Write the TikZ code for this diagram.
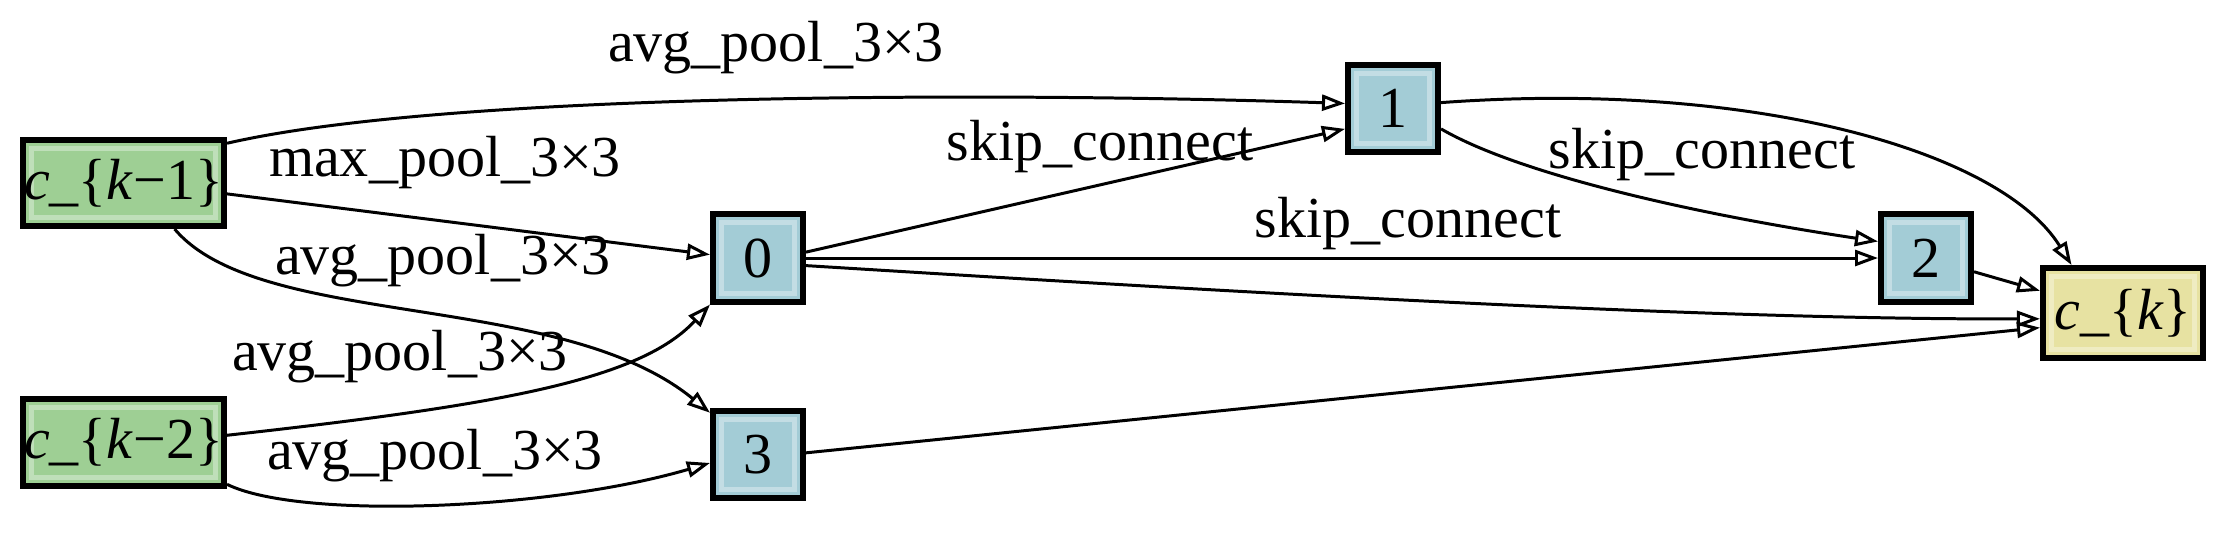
\documentclass[tikz,border=0pt]{standalone}
\usepackage{fontspec}
\setmainfont{Liberation Serif}
\usetikzlibrary{arrows.meta}
\definecolor{gfill}{RGB}{158,207,148}
\definecolor{bfill}{RGB}{163,204,214}
\definecolor{yfill}{RGB}{231,226,162}
\tikzset{
  box/.style={draw=black, line width=1.7pt, inner sep=0pt, font=\fontsize{16.5}{18}\selectfont,
    path picture={\draw[white, opacity=0.35, line width=1.4pt]
      ([shift={(2.4pt,-2.4pt)}]path picture bounding box.north west) rectangle
      ([shift={(-2.4pt,2.4pt)}]path picture bounding box.south east);}},
  inbox/.style={box, fill=gfill, minimum width=2.01cm, minimum height=0.86cm},
  opbox/.style={box, fill=bfill, minimum width=0.9cm, minimum height=0.87cm},
  outbox/.style={box, fill=yfill, minimum width=1.6cm, minimum height=0.9cm},
  lbl/.style={inner sep=0pt, font=\fontsize{16.5}{18}\selectfont},
  edge/.style={line width=0.85pt, -{Triangle[open, length=0.23cm, width=0.16cm, line width=0.85pt]}}
}
\begin{document}
\begin{tikzpicture}[x=0.01cm, y=-0.01cm]
\useasboundingbox (0,0) rectangle (2222,533);
% nodes
\node[inbox] (ck1) at (123.5,183) {\textit{c}\_\{\textit{k}−1\}};
\node[inbox] (ck2) at (123.5,442.5) {\textit{c}\_\{\textit{k}−2\}};
\node[opbox] (n0) at (758,258) {0};
\node[opbox] (n3) at (758,454.5) {3};
\node[opbox] (n1) at (1393,108.5) {1};
\node[opbox] (n2) at (1926,258) {2};
\node[outbox] (ck) at (2123,313) {\textit{c}\_\{\textit{k}\}};
% labels
\node[lbl] (lA) at (776,48) {avg\_pool\_3×3};
\node[lbl] (lB) at (445,163) {max\_pool\_3×3};
\node[lbl] (lC) at (443,261) {avg\_pool\_3×3};
\node[lbl] (lD) at (400,357) {avg\_pool\_3×3};
\node[lbl] (lE) at (435,456) {avg\_pool\_3×3};
\node[lbl] (lF) at (1100,147) {skip\_connect};
\node[lbl] (lG) at (1408,224) {skip\_connect};
\node[lbl] (lH) at (1702,155) {skip\_connect};
% edges
\draw[edge] (ck1.21) .. controls (450,92) and (1000,92) .. (n1.174);
\draw[edge] (ck1.-6) -- (n0.176);
\draw[edge] (ck1.-42) .. controls (260,330) and (560,290) .. (n3.139);
\draw[edge] (ck2.4) .. controls (500,405) and (640,380) .. (n0.south west);
\draw[edge] (ck2.-22) .. controls (300,520) and (550,510) .. (n3.190);
\draw[edge] (n0.7) -- (n1.203);
\draw[edge] (n0.east) -- (n2.west);
\draw[edge] (n0.-9) .. controls (1200,290) and (1700,320) .. (ck.184);
\draw[edge] (n3.2) -- (ck.190);
\draw[edge] (n1.-23) .. controls (1520,175) and (1700,215) .. (n2.161);
\draw[edge] (n1.7) .. controls (1750,80) and (2000,150) .. (ck.137);
\draw[edge] (n2.-16) -- (ck.165);
\end{tikzpicture}
\end{document}
